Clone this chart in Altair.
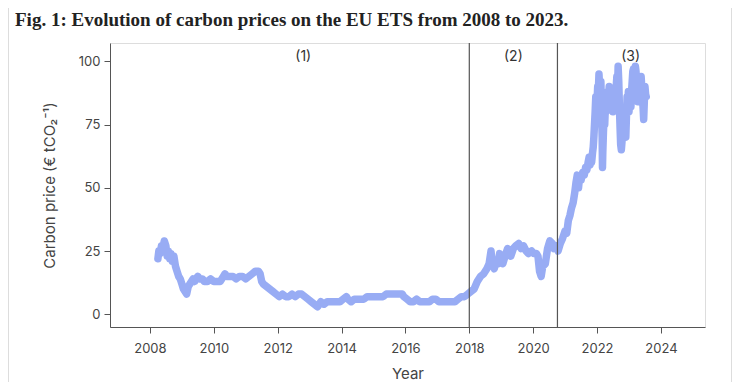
import altair as alt
import pandas as pd

# Carbon price (EUR / tCO2), by decimal year
years = [
    2008.25, 2008.28, 2008.32, 2008.36, 2008.40, 2008.45, 2008.50, 2008.54, 2008.58, 2008.62,
    2008.66, 2008.70, 2008.75, 2008.80, 2008.85, 2008.90, 2008.95, 2009.00, 2009.05, 2009.10,
    2009.15, 2009.20, 2009.25, 2009.30, 2009.35, 2009.40, 2009.45, 2009.50, 2009.55, 2009.60,
    2009.65, 2009.70, 2009.80, 2009.90, 2010.00, 2010.10, 2010.20, 2010.30, 2010.35, 2010.40,
    2010.50, 2010.60, 2010.70, 2010.80, 2010.90, 2011.00, 2011.10, 2011.20, 2011.30, 2011.40,
    2011.45, 2011.50, 2011.55, 2011.65, 2011.75, 2011.85, 2011.95, 2012.05, 2012.15, 2012.25,
    2012.35, 2012.45, 2012.55, 2012.65, 2012.75, 2012.85, 2012.95, 2013.05, 2013.15, 2013.25,
    2013.30, 2013.35, 2013.45, 2013.55, 2013.65, 2013.75, 2013.85, 2013.95, 2014.05, 2014.15,
    2014.20, 2014.30, 2014.40, 2014.50, 2014.60, 2014.70, 2014.80, 2014.90, 2015.00, 2015.10,
    2015.20, 2015.30, 2015.40, 2015.50, 2015.60, 2015.70, 2015.80, 2015.90, 2015.95, 2016.05,
    2016.15, 2016.25, 2016.35, 2016.45, 2016.55, 2016.65, 2016.75, 2016.85, 2016.95, 2017.05,
    2017.15, 2017.25, 2017.35, 2017.45, 2017.55, 2017.65, 2017.75, 2017.85, 2017.95, 2018.05,
    2018.15, 2018.25, 2018.35, 2018.45, 2018.55, 2018.62, 2018.68, 2018.72, 2018.78, 2018.85,
    2018.90, 2018.95, 2019.00, 2019.05, 2019.12, 2019.20, 2019.25, 2019.30, 2019.38, 2019.45,
    2019.55, 2019.62, 2019.70, 2019.78, 2019.85, 2019.95, 2020.02, 2020.10, 2020.15, 2020.20,
    2020.25, 2020.30, 2020.38, 2020.45, 2020.52, 2020.60, 2020.65, 2020.72, 2020.78, 2020.85,
    2020.92, 2021.00, 2021.05, 2021.10, 2021.15, 2021.20, 2021.25, 2021.30, 2021.34, 2021.38,
    2021.42, 2021.45, 2021.50, 2021.55, 2021.60, 2021.64, 2021.68, 2021.72, 2021.75, 2021.78,
    2021.80, 2021.83, 2021.86, 2021.88, 2021.90, 2021.92, 2021.94, 2021.96, 2021.98, 2022.00,
    2022.02, 2022.04, 2022.06, 2022.08, 2022.10, 2022.12, 2022.14, 2022.16, 2022.17, 2022.18,
    2022.20, 2022.22, 2022.24, 2022.26, 2022.28, 2022.30, 2022.32, 2022.34, 2022.36, 2022.38,
    2022.40, 2022.42, 2022.44, 2022.46, 2022.48, 2022.50, 2022.52, 2022.54, 2022.56, 2022.58,
    2022.60, 2022.62, 2022.64, 2022.66, 2022.68, 2022.70, 2022.72, 2022.74, 2022.76, 2022.78,
    2022.80, 2022.82, 2022.84, 2022.86, 2022.88, 2022.90, 2022.92, 2022.94, 2022.96, 2022.98,
    2023.00, 2023.02, 2023.04, 2023.06, 2023.08, 2023.10, 2023.12, 2023.14, 2023.16, 2023.18,
    2023.20, 2023.22, 2023.24, 2023.26, 2023.28, 2023.30, 2023.32, 2023.34, 2023.36, 2023.38,
    2023.40, 2023.42, 2023.44, 2023.46, 2023.48, 2023.50, 2023.52, 2023.54,
]
prices = [
    22, 25, 24, 27, 26, 29, 27, 23, 25, 22,
    24, 21, 23, 19, 17, 15, 14, 12, 10, 9,
    8, 11, 12, 13, 14, 13, 14, 15, 14, 14,
    14, 13, 13, 14, 13, 13, 13, 15, 16, 15,
    15, 15, 14, 15, 15, 14, 15, 16, 17, 17,
    16, 13, 12, 11, 10, 9, 8, 7, 8, 7,
    7, 8, 7, 8, 8, 7, 6, 5, 4, 3,
    4, 5, 4, 5, 5, 5, 5, 5, 6, 7,
    6, 5, 6, 6, 6, 6, 7, 7, 7, 7,
    7, 7, 8, 8, 8, 8, 8, 8, 7, 6,
    5, 5, 6, 5, 5, 5, 5, 6, 6, 5,
    5, 5, 5, 5, 5, 6, 7, 7, 8, 9,
    10, 13, 15, 16, 18, 20, 25, 20, 18, 21,
    20, 24, 22, 20, 23, 26, 24, 23, 26, 27,
    28, 26, 27, 25, 24, 25, 24, 24, 23, 17,
    15, 19, 20, 26, 29, 28, 26, 27, 25, 28,
    30, 33, 32, 37, 39, 42, 44, 48, 52, 55,
    50, 54, 53, 56, 55, 58, 57, 60, 62, 59,
    62, 60, 64, 66, 70, 75, 80, 86, 78, 84,
    90, 88, 95, 90, 84, 92, 80, 70, 58, 64,
    72, 78, 75, 82, 80, 85, 83, 88, 84, 90,
    86, 82, 88, 83, 86, 80, 85, 82, 88, 84,
    90, 94, 88, 98, 92, 82, 74, 67, 65, 68,
    72, 70, 76, 80, 74, 70, 78, 86, 82, 88,
    80, 84, 86, 82, 88, 92, 96, 97, 92, 95,
    98, 96, 90, 88, 84, 86, 90, 92, 88, 94,
    90, 85, 82, 77, 84, 90, 87, 86,
]

phase_bounds = [2018.0, 2020.76]
phase_labels = ["(1)", "(2)", "(3)"]
phase_label_x = [2012.8, 2019.38, 2023.05]

x_ticks = [2008, 2010, 2012, 2014, 2016, 2018, 2020, 2022, 2024]
y_ticks = [0, 25, 50, 75, 100]

df = pd.DataFrame({"year": years, "price": prices})
bounds_df = pd.DataFrame({"year": phase_bounds})
labels_df = pd.DataFrame({"year": phase_label_x, "label": phase_labels})

W, H = 595, 284
xscale = alt.Scale(domain=[2006.75, 2025.38], nice=False, zero=False)
yscale = alt.Scale(domain=[-5, 107.2], nice=False, zero=False)

line = alt.Chart(df).mark_line(
    color="#98acf4", strokeWidth=7.5, strokeCap="round", strokeJoin="round"
).encode(
    x=alt.X("year:Q", scale=xscale, title="Year",
            axis=alt.Axis(values=x_ticks, format="d", grid=False,
                          labelFontSize=13, titleFontSize=15, tickSize=6,
                          labelPadding=9, titlePadding=11, domainColor="#555",
                          tickColor="#555", labelColor="#444", titleColor="#444",
                          labelFont="Inter", titleFont="Inter", titleFontWeight="normal",
                          labelFlush=False)),
    y=alt.Y("price:Q", scale=yscale, title="Carbon price (€ tCO₂⁻¹)",
            axis=alt.Axis(values=y_ticks, grid=False, labelFontSize=13, titleFontSize=15,
                          tickSize=6, labelPadding=4, titlePadding=21, domainColor="#555",
                          tickColor="#555", labelColor="#444", titleColor="#444",
                          labelFont="Inter", titleFont="Inter", titleFontWeight="normal")),
)

rules = alt.Chart(bounds_df).mark_rule(color="#555", strokeWidth=1.2).encode(
    x=alt.X("year:Q", scale=xscale)
)

labels = alt.Chart(labels_df).mark_text(
    fontSize=14, font="Inter", color="#333", baseline="middle", align="center"
).encode(
    x=alt.X("year:Q", scale=xscale),
    y=alt.value(14),
    text="label:N",
)

title_mark = alt.Chart(pd.DataFrame({"t": ["Fig. 1: Evolution of carbon prices on the EU ETS from 2008 to 2023."]})).mark_text(
    fontSize=19, font="Liberation Serif", fontWeight="bold", color="#222", align="left", baseline="alphabetic"
).encode(
    x=alt.value(-95), y=alt.value(-17), text="t:N"
)

frame_df = pd.DataFrame({"xp": [-102, 622]})
frame = alt.Chart(frame_df).mark_rule(color="#dddddd", strokeWidth=2).encode(
    x=alt.X("xp:Q", scale=None),
    y=alt.value(-35),
    y2=alt.value(H + 55),
)

chart = alt.layer(frame, line, rules, labels, title_mark).properties(
    width=W, height=H,
    autosize=alt.AutoSizeParams(type="none"),
    padding={"left": 102, "top": 35, "right": 27, "bottom": 55},
).configure_view(
    stroke="#555", strokeWidth=1.2
).configure(background="white")

chart.save("out.html", embed_options={"renderer": "svg", "actions": False})
